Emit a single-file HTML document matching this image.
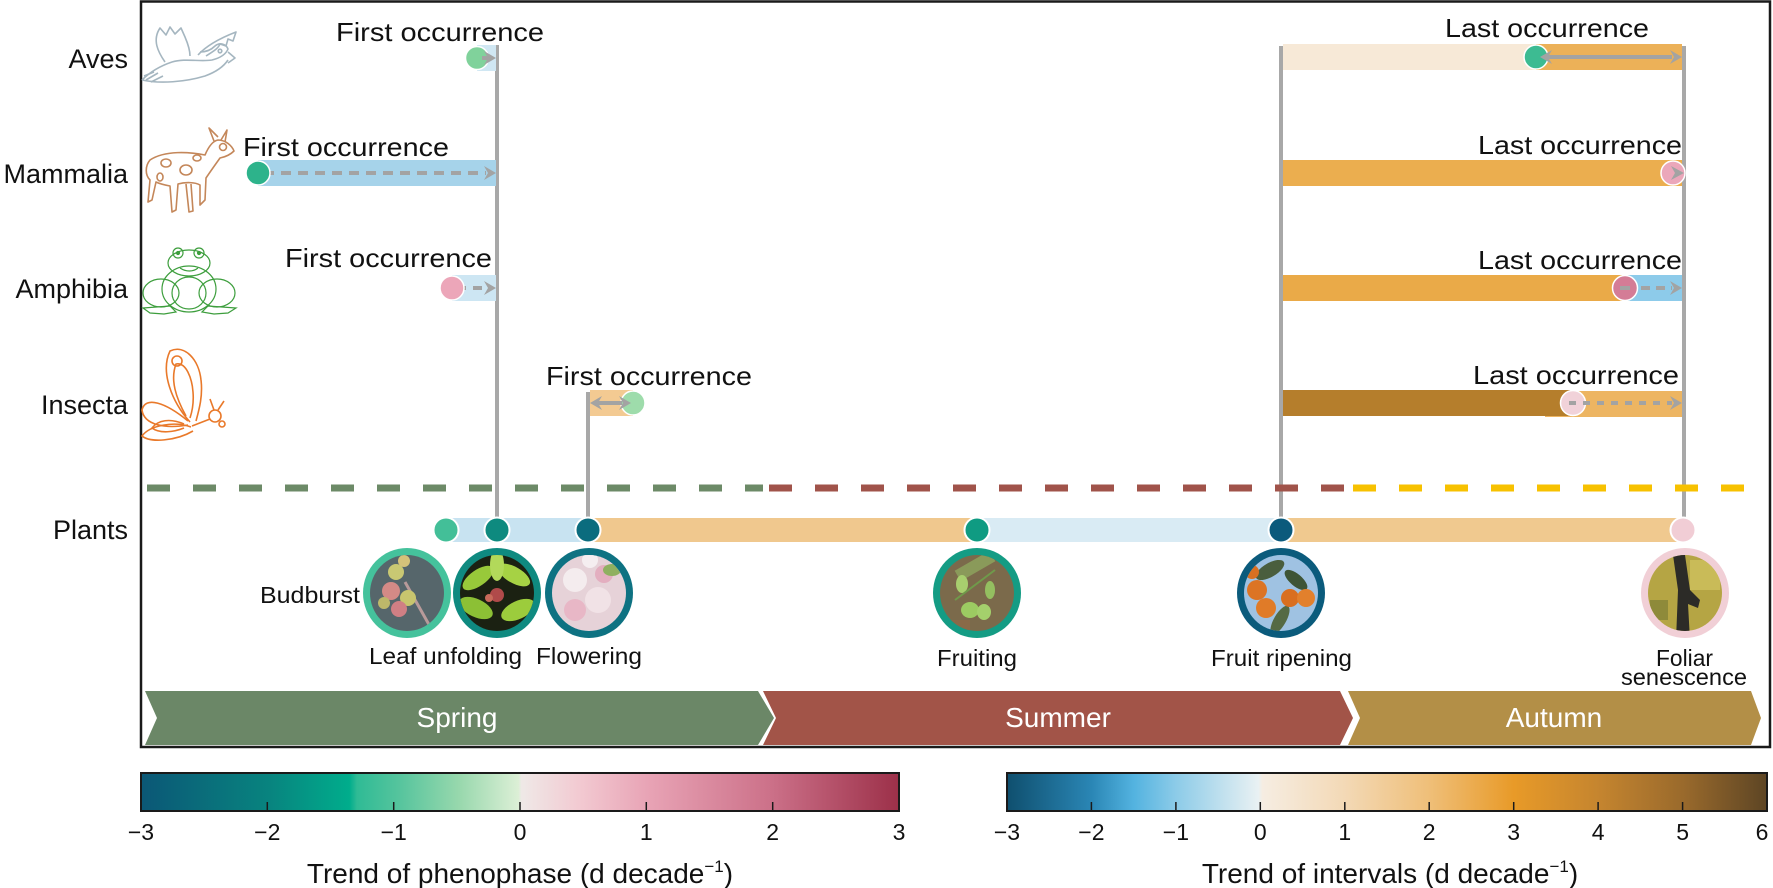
<!DOCTYPE html>
<html>
<head>
<meta charset="utf-8">
<style>
html,body{margin:0;padding:0;background:#fff;}
svg{display:block;}
text{font-family:"Liberation Sans",sans-serif;fill:#111;}
</style>
</head>
<body>
<svg width="1773" height="888" viewBox="0 0 1773 888" xmlns="http://www.w3.org/2000/svg">
<defs>
  <linearGradient id="cb1" x1="0" x2="1" y1="0" y2="0">
    <stop offset="0" stop-color="#0b5776"/>
    <stop offset="0.17" stop-color="#08847f"/>
    <stop offset="0.275" stop-color="#00ad8c"/>
    <stop offset="0.285" stop-color="#2fbb95"/>
    <stop offset="0.34" stop-color="#55c49d"/>
    <stop offset="0.42" stop-color="#98d8ad"/>
    <stop offset="0.498" stop-color="#dcefd6"/>
    <stop offset="0.502" stop-color="#efe9e7"/>
    <stop offset="0.58" stop-color="#f2c9d1"/>
    <stop offset="0.67" stop-color="#e8a3b5"/>
    <stop offset="0.83" stop-color="#cc7189"/>
    <stop offset="1" stop-color="#9c3049"/>
  </linearGradient>
  <linearGradient id="cb2" x1="0" x2="1" y1="0" y2="0">
    <stop offset="0" stop-color="#0f4f6e"/>
    <stop offset="0.111" stop-color="#2a86b5"/>
    <stop offset="0.167" stop-color="#53b3e0"/>
    <stop offset="0.222" stop-color="#8ccbe8"/>
    <stop offset="0.331" stop-color="#e9f1f3"/>
    <stop offset="0.336" stop-color="#f6ede2"/>
    <stop offset="0.444" stop-color="#f3d9b6"/>
    <stop offset="0.555" stop-color="#efbf79"/>
    <stop offset="0.667" stop-color="#e89a28"/>
    <stop offset="0.778" stop-color="#c5852f"/>
    <stop offset="0.889" stop-color="#9a6a2c"/>
    <stop offset="1" stop-color="#5d4524"/>
  </linearGradient>
  <clipPath id="c1"><ellipse cx="407" cy="593" rx="37" ry="38"/></clipPath>
  <clipPath id="c2"><ellipse cx="497" cy="593" rx="37" ry="38"/></clipPath>
  <clipPath id="c3"><ellipse cx="589" cy="593" rx="37" ry="38"/></clipPath>
  <clipPath id="c4"><ellipse cx="977" cy="593" rx="37" ry="38"/></clipPath>
  <clipPath id="c5"><ellipse cx="1281" cy="593" rx="37" ry="38"/></clipPath>
  <clipPath id="c6"><ellipse cx="1685" cy="593" rx="37" ry="38"/></clipPath>
</defs>

<!-- frame -->
<rect x="141" y="1.5" width="1629" height="745.5" fill="none" stroke="#1a1a1a" stroke-width="2.5"/>

<!-- row labels -->
<g font-size="27" text-anchor="end">
  <text x="128" y="68">Aves</text>
  <text x="128" y="183">Mammalia</text>
  <text x="128" y="298">Amphibia</text>
  <text x="128" y="414">Insecta</text>
  <text x="128" y="539">Plants</text>
</g>

<!-- animal icons -->
<g fill="none" stroke="#a5b6c0" stroke-width="1.6" stroke-linejoin="round">
  <path d="M142,80 C150,72 160,66 172,62 C185,58 200,62 212,60 C220,58 226,54 228,49 C226,44 220,42 215,46 C211,50 206,52 200,52"/>
  <path d="M142,80 C160,84 185,82 205,76 C216,72 224,66 228,60"/>
  <path d="M165,62 C158,52 152,40 160,28 L166,35 L170,27 L175,34 L181,28 L185,37 C188,44 190,50 190,56"/>
  <path d="M198,55 C206,46 218,39 236,32 L233,41 L228,39 L226,46 L220,44 C218,49 212,52 206,56"/>
  <path d="M228,52 L235,58 L228,63"/>
  <path d="M146,80 L158,73 M151,82 L163,76 M144,76 L154,72"/>
  <circle cx="220" cy="51" r="1.8"/>
</g>
<g fill="none" stroke="#c4875a" stroke-width="1.6" stroke-linejoin="round">
  <path d="M150,160 C165,150 190,152 205,155 C208,148 212,141 218,140 C226,140 232,146 234,151 C230,155 225,157 220,158 C215,165 210,172 206,178 L205,200 L200,205 L200,185 C195,182 185,182 178,184 L176,210 L172,212 L170,186 C165,185 160,184 156,182 L152,200 L148,202 L150,180 C145,175 145,166 150,160 Z"/>
  <path d="M214,141 L209,128 L218,137 M221,140 L227,130 L225,142"/>
  <circle cx="223" cy="147" r="3.5"/>
  <ellipse cx="166" cy="163" rx="5" ry="4"/>
  <ellipse cx="186" cy="170" rx="6" ry="5"/>
  <ellipse cx="160" cy="177" rx="3" ry="4"/>
  <ellipse cx="197" cy="158" rx="4" ry="3"/>
  <path d="M186,184 L189,212 L193,211 L191,184"/>
</g>
<g fill="none" stroke="#3d9e3d" stroke-width="1.2">
  <ellipse cx="189" cy="289" rx="27" ry="23"/>
  <ellipse cx="189" cy="263" rx="21" ry="13"/>
  <circle cx="178" cy="253" r="5"/>
  <circle cx="199" cy="253" r="5"/>
  <circle cx="178" cy="253" r="1.5" fill="#3d9e3d"/>
  <circle cx="199" cy="253" r="1.5" fill="#3d9e3d"/>
  <path d="M180,268 C186,272 193,272 198,268"/>
  <ellipse cx="161" cy="293" rx="18" ry="14"/>
  <ellipse cx="217" cy="293" rx="18" ry="14"/>
  <ellipse cx="189" cy="293" rx="17" ry="16"/>
  <path d="M143,308 L170,306 L176,312 L164,314 L150,313 Z"/>
  <path d="M236,308 L208,306 L202,312 L214,314 L228,313 Z"/>
</g>
<g fill="none" stroke="#e9792a" stroke-width="1.6" stroke-linejoin="round">
  <path d="M190,422 C172,402 160,372 170,351 C185,344 199,360 201,380 C203,396 199,410 196,421"/>
  <path d="M186,416 C176,398 170,380 176,364 C186,362 192,378 193,392 C194,404 192,412 190,418"/>
  <circle cx="177" cy="361" r="5"/>
  <path d="M188,421 C165,402 145,396 142,410 C144,425 165,429 188,425"/>
  <path d="M191,427 C175,421 150,425 142,436 C150,443 176,441 193,431"/>
  <path d="M184,424 C170,418 158,420 152,428 C160,434 174,432 184,428"/>
  <path d="M192,426 L210,419"/>
  <circle cx="215" cy="416" r="6"/>
  <path d="M214,410 L210,399 M218,410 L224,401"/>
  <circle cx="222" cy="424" r="3"/>
</g>

<!-- gray vertical lines -->
<g stroke="#a8a8a8" stroke-width="4">
  <line x1="497" y1="45" x2="497" y2="518"/>
  <line x1="588" y1="392" x2="588" y2="518"/>
  <line x1="1281" y1="46" x2="1281" y2="518"/>
  <line x1="1684" y1="46" x2="1684" y2="518"/>
</g>

<!-- Aves -->
<rect x="477" y="45" width="19" height="26" fill="#d0e7f3"/>
<circle cx="477" cy="58" r="11.5" fill="#80d29b" stroke="#fff" stroke-width="1.5"/>
<line x1="482" y1="58" x2="489" y2="58" stroke="#a3a3a3" stroke-width="4"/>
<polygon points="496,58 484,51 488,58 484,65" fill="#a3a3a3"/>
<rect x="1283" y="44" width="253" height="26" fill="#f7e9d7"/>
<rect x="1536" y="44" width="146" height="26" fill="#ecb158"/>
<circle cx="1536" cy="57" r="12" fill="#3dbb92" stroke="#fff" stroke-width="1.5"/>
<line x1="1546" y1="57" x2="1672" y2="57" stroke="#a3a3a3" stroke-width="4"/>
<polygon points="1540,57 1552,50 1548,57 1552,64" fill="#a3a3a3"/>
<polygon points="1682,57 1670,50 1674,57 1670,64" fill="#a3a3a3"/>

<!-- Mammalia -->
<rect x="258" y="160" width="238" height="26" fill="#a6d3ea"/>
<line x1="264" y1="173" x2="486" y2="173" stroke="#a3a3a3" stroke-width="4" stroke-dasharray="10 7"/>
<polygon points="496,173 484,166 488,173 484,180" fill="#a3a3a3"/>
<circle cx="258" cy="173" r="12" fill="#2db38b" stroke="#fff" stroke-width="1.5"/>
<rect x="1283" y="160" width="399" height="26" fill="#ebae4f"/>
<circle cx="1673" cy="173" r="12" fill="#eba7ba" stroke="#fff" stroke-width="1.5"/>
<polygon points="1684,173 1671,166 1675,173 1671,180" fill="#a3a3a3"/>

<!-- Amphibia -->
<rect x="452" y="275" width="44" height="26" fill="#cde6f3"/>
<line x1="457" y1="288" x2="486" y2="288" stroke="#a3a3a3" stroke-width="4" stroke-dasharray="9 7"/>
<polygon points="496,288 484,281 488,288 484,295" fill="#a3a3a3"/>
<circle cx="452" cy="288" r="12" fill="#eca6b9" stroke="#fff" stroke-width="1.5"/>
<rect x="1283" y="275" width="342" height="26" fill="#eaaa48"/>
<rect x="1625" y="275" width="57" height="26" fill="#8dcbea"/>
<line x1="1626" y1="288" x2="1672" y2="288" stroke="#a3a3a3" stroke-width="4" stroke-dasharray="9 6"/>
<polygon points="1682,288 1670,281 1674,288 1670,295" fill="#a3a3a3"/>
<circle cx="1625" cy="288" r="12.5" fill="#d47c96" stroke="#fff" stroke-width="1.5"/>
<line x1="1620" y1="288" x2="1630" y2="288" stroke="#a3a3a3" stroke-width="4"/>

<!-- Insecta -->
<rect x="590" y="390" width="43" height="26" fill="#f3ca92"/>
<circle cx="633" cy="403" r="12" fill="#9edcab" stroke="#fff" stroke-width="1.5"/>
<line x1="598" y1="403" x2="622" y2="403" stroke="#a3a3a3" stroke-width="4"/>
<polygon points="590,403 602,396 598,403 602,410" fill="#a3a3a3"/>
<polygon points="631,403 619,396 623,403 619,410" fill="#a3a3a3"/>
<rect x="1545" y="391" width="137" height="26" fill="#edb562"/>
<rect x="1283" y="390" width="290" height="26" fill="#b57e2c"/>
<circle cx="1573" cy="403" r="12.5" fill="#f1d2d9" stroke="#fff" stroke-width="1.5"/>
<line x1="1569" y1="403" x2="1672" y2="403" stroke="#a3a3a3" stroke-width="4" stroke-dasharray="7 7"/>
<polygon points="1682,403 1670,396 1674,403 1670,410" fill="#a3a3a3"/>

<!-- occurrence labels -->
<g font-size="26">
  <text x="336" y="41" textLength="208" lengthAdjust="spacingAndGlyphs">First occurrence</text>
  <text x="243" y="156" textLength="206" lengthAdjust="spacingAndGlyphs">First occurrence</text>
  <text x="285" y="267" textLength="207" lengthAdjust="spacingAndGlyphs">First occurrence</text>
  <text x="546" y="385" textLength="206" lengthAdjust="spacingAndGlyphs">First occurrence</text>
  <text x="1445" y="37" textLength="204" lengthAdjust="spacingAndGlyphs">Last occurrence</text>
  <text x="1478" y="154" textLength="204" lengthAdjust="spacingAndGlyphs">Last occurrence</text>
  <text x="1478" y="269" textLength="204" lengthAdjust="spacingAndGlyphs">Last occurrence</text>
  <text x="1473" y="384" textLength="206" lengthAdjust="spacingAndGlyphs">Last occurrence</text>
</g>

<!-- season dashed line -->
<g stroke-width="7" stroke-dasharray="23 23">
  <line x1="147" y1="488" x2="763" y2="488" stroke="#6c8a67"/>
  <line x1="769" y1="488" x2="1347" y2="488" stroke="#a0534a"/>
  <line x1="1353" y1="488" x2="1747" y2="488" stroke="#f7c100"/>
</g>

<!-- plants bar -->
<rect x="446" y="518" width="142" height="24" fill="#c8e3f1"/>
<rect x="588" y="518" width="389" height="24" fill="#f0c88e"/>
<rect x="977" y="518" width="304" height="24" fill="#d9ebf4"/>
<rect x="1281" y="518" width="402" height="24" fill="#f0c98f"/>
<g stroke="#fff" stroke-width="2">
  <circle cx="446" cy="530" r="12.5" fill="#43bf98"/>
  <circle cx="497" cy="530" r="12.5" fill="#0e8a7f"/>
  <circle cx="588" cy="530" r="12.5" fill="#0b6c7e"/>
  <circle cx="977" cy="530" r="12.5" fill="#0f9b82"/>
  <circle cx="1281" cy="530" r="12.5" fill="#0b5a7c"/>
  <circle cx="1683" cy="530" r="12.5" fill="#f1cdd5"/>
</g>

<!-- photos -->
<ellipse cx="407" cy="593" rx="44" ry="45" fill="#45c29c"/>
<g clip-path="url(#c1)">
  <rect x="360" y="545" width="95" height="95" fill="#56666b"/>
  <line x1="405" y1="582" x2="432" y2="630" stroke="#b89a9a" stroke-width="3"/>
  <circle cx="396" cy="572" r="8" fill="#c9c873"/>
  <circle cx="404" cy="561" r="6" fill="#d4c27a"/>
  <circle cx="391" cy="591" r="9" fill="#d48a86"/>
  <circle cx="408" cy="598" r="8" fill="#c8c56e"/>
  <circle cx="399" cy="609" r="8" fill="#d07f84"/>
  <circle cx="384" cy="603" r="6" fill="#bdb86a"/>
</g>
<ellipse cx="497" cy="593" rx="44" ry="45" fill="#0f8a80"/>
<g clip-path="url(#c2)">
  <rect x="450" y="545" width="95" height="95" fill="#1b2112"/>
  <ellipse cx="478" cy="578" rx="18" ry="8" transform="rotate(-35 478 578)" fill="#98c93a"/>
  <ellipse cx="514" cy="575" rx="18" ry="8" transform="rotate(30 514 575)" fill="#a6d244"/>
  <ellipse cx="476" cy="608" rx="18" ry="9" transform="rotate(25 476 608)" fill="#8cc035"/>
  <ellipse cx="518" cy="610" rx="18" ry="9" transform="rotate(-25 518 610)" fill="#9ccc3c"/>
  <ellipse cx="497" cy="565" rx="7" ry="16" fill="#b2d95a"/>
  <circle cx="497" cy="595" r="7" fill="#b04a4a"/>
  <circle cx="489" cy="598" r="4" fill="#c86a5a"/>
</g>
<ellipse cx="589" cy="593" rx="44" ry="45" fill="#0e7282"/>
<g clip-path="url(#c3)">
  <rect x="540" y="545" width="95" height="95" fill="#e6d2d8"/>
  <circle cx="575" cy="580" r="12" fill="#f4ecee"/>
  <circle cx="598" cy="600" r="13" fill="#f1e2e6"/>
  <circle cx="575" cy="610" r="11" fill="#e8b7c6"/>
  <circle cx="604" cy="574" r="9" fill="#e3aebf"/>
  <ellipse cx="612" cy="570" rx="9" ry="6" fill="#8fb060"/>
  <circle cx="590" cy="560" r="8" fill="#f5eef0"/>
</g>
<ellipse cx="977" cy="593" rx="44" ry="45" fill="#149c84"/>
<g clip-path="url(#c4)">
  <rect x="930" y="545" width="95" height="95" fill="#7b6a4b"/>
  <rect x="955" y="560" width="40" height="12" fill="#8a9a5a" transform="rotate(-30 975 566)"/>
  <ellipse cx="962" cy="584" rx="6" ry="9" fill="#a8cf6e"/>
  <ellipse cx="970" cy="610" rx="9" ry="8" fill="#9ccb62"/>
  <ellipse cx="984" cy="612" rx="7" ry="8" fill="#a4d06c"/>
  <ellipse cx="990" cy="590" rx="5" ry="9" fill="#94bf60"/>
  <line x1="955" y1="600" x2="995" y2="570" stroke="#6f9a4a" stroke-width="2"/>
  <rect x="940" y="620" width="30" height="10" fill="#8a6a48"/>
</g>
<ellipse cx="1281" cy="593" rx="44" ry="45" fill="#0b5b7c"/>
<g clip-path="url(#c5)">
  <rect x="1234" y="545" width="95" height="95" fill="#9fc2e2"/>
  <ellipse cx="1270" cy="570" rx="16" ry="7" fill="#4a5e3e" transform="rotate(-30 1270 570)"/>
  <ellipse cx="1296" cy="580" rx="14" ry="6" fill="#3e5536" transform="rotate(40 1296 580)"/>
  <ellipse cx="1280" cy="620" rx="16" ry="6" fill="#556a44" transform="rotate(-60 1280 620)"/>
  <circle cx="1257" cy="590" r="10" fill="#dc7424"/>
  <circle cx="1266" cy="608" r="10" fill="#e07b28"/>
  <circle cx="1290" cy="598" r="9" fill="#d96f20"/>
  <circle cx="1306" cy="598" r="9" fill="#e2802c"/>
  <circle cx="1252" cy="572" r="7" fill="#d87020"/>
</g>
<ellipse cx="1685" cy="593" rx="44" ry="45" fill="#f1cfd6"/>
<g clip-path="url(#c6)">
  <rect x="1638" y="545" width="95" height="95" fill="#b5a544"/>
  <rect x="1690" y="560" width="30" height="30" fill="#c9bb58"/>
  <polygon points="1672,548 1684,548 1690,590 1700,600 1698,608 1688,604 1690,640 1676,640 1678,590" fill="#2c2b27"/>
  <rect x="1650" y="600" width="18" height="20" fill="#8e8a3a"/>
</g>

<!-- phase labels -->
<g font-size="23">
  <text x="360" y="603" text-anchor="end" textLength="100" lengthAdjust="spacingAndGlyphs">Budburst</text>
  <text x="369" y="664" textLength="153" lengthAdjust="spacingAndGlyphs">Leaf unfolding</text>
  <text x="536" y="664" textLength="106" lengthAdjust="spacingAndGlyphs">Flowering</text>
  <text x="937" y="666" textLength="80" lengthAdjust="spacingAndGlyphs">Fruiting</text>
  <text x="1211" y="666" textLength="141" lengthAdjust="spacingAndGlyphs">Fruit ripening</text>
  <text x="1656" y="666" textLength="57" lengthAdjust="spacingAndGlyphs">Foliar</text>
  <text x="1621" y="685" textLength="126" lengthAdjust="spacingAndGlyphs">senescence</text>
</g>

<!-- season banner -->
<polygon points="145,691 758,691 774,718 758,745 145,745 157,718" fill="#6b8767"/>
<polygon points="763,691 1340,691 1353,718 1340,745 763,745 776,718" fill="#a25448"/>
<polygon points="1348,691 1751,691 1761,718 1751,745 1348,745 1360,718" fill="#b38f47"/>
<g font-size="28" text-anchor="middle">
  <text x="457" y="727" style="fill:#fff">Spring</text>
  <text x="1058" y="727" style="fill:#fff">Summer</text>
  <text x="1554" y="727" style="fill:#fff">Autumn</text>
</g>

<!-- colorbar 1 -->
<rect x="141" y="773" width="758" height="38" fill="url(#cb1)" stroke="#1a1a1a" stroke-width="2"/>
<g stroke="#1a1a1a" stroke-width="1.5">
  <line x1="267.3" y1="811" x2="267.3" y2="802"/>
  <line x1="393.7" y1="811" x2="393.7" y2="802"/>
  <line x1="520" y1="811" x2="520" y2="802"/>
  <line x1="646.3" y1="811" x2="646.3" y2="802"/>
  <line x1="772.7" y1="811" x2="772.7" y2="802"/>
</g>
<g font-size="23" text-anchor="middle">
  <text x="141" y="840">−3</text>
  <text x="267.3" y="840">−2</text>
  <text x="393.7" y="840">−1</text>
  <text x="520" y="840">0</text>
  <text x="646.3" y="840">1</text>
  <text x="772.7" y="840">2</text>
  <text x="899" y="840">3</text>
</g>
<text x="520" y="883" font-size="28" text-anchor="middle">Trend of phenophase (d decade<tspan dy="-11" font-size="17">−1</tspan><tspan dy="11">)</tspan></text>

<!-- colorbar 2 -->
<rect x="1007" y="773" width="760" height="38" fill="url(#cb2)" stroke="#1a1a1a" stroke-width="2"/>
<g stroke="#1a1a1a" stroke-width="1.5">
  <line x1="1091.4" y1="811" x2="1091.4" y2="802"/>
  <line x1="1175.9" y1="811" x2="1175.9" y2="802"/>
  <line x1="1260.3" y1="811" x2="1260.3" y2="802"/>
  <line x1="1344.8" y1="811" x2="1344.8" y2="802"/>
  <line x1="1429.2" y1="811" x2="1429.2" y2="802"/>
  <line x1="1513.7" y1="811" x2="1513.7" y2="802"/>
  <line x1="1598.1" y1="811" x2="1598.1" y2="802"/>
  <line x1="1682.6" y1="811" x2="1682.6" y2="802"/>
</g>
<g font-size="23" text-anchor="middle">
  <text x="1007" y="840">−3</text>
  <text x="1091.4" y="840">−2</text>
  <text x="1175.9" y="840">−1</text>
  <text x="1260.3" y="840">0</text>
  <text x="1344.8" y="840">1</text>
  <text x="1429.2" y="840">2</text>
  <text x="1513.7" y="840">3</text>
  <text x="1598.1" y="840">4</text>
  <text x="1682.6" y="840">5</text>
  <text x="1762" y="840">6</text>
</g>
<text x="1390" y="883" font-size="28" text-anchor="middle">Trend of intervals (d decade<tspan dy="-11" font-size="17">−1</tspan><tspan dy="11">)</tspan></text>
</svg>
</body>
</html>
